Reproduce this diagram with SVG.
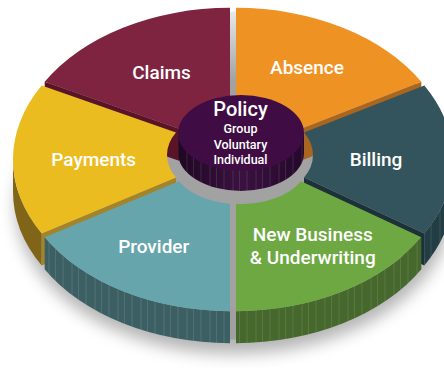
<svg xmlns="http://www.w3.org/2000/svg" width="444" height="368" viewBox="0 0 444 368">
<defs>
<filter id="blur" x="-20%" y="-20%" width="140%" height="140%"><feGaussianBlur stdDeviation="8"/></filter>
<linearGradient id="baseG" gradientUnits="userSpaceOnUse" x1="0" y1="8" x2="0" y2="80">
<stop offset="0" stop-color="#ececec"/><stop offset="1" stop-color="#a2a2a2"/>
</linearGradient>
<linearGradient id="cylSide" x1="0" y1="0" x2="1" y2="0">
<stop offset="0" stop-color="#1f0722"/><stop offset="0.5" stop-color="#3a1240"/><stop offset="1" stop-color="#24082a"/>
</linearGradient>
<pattern id="stripes" patternUnits="userSpaceOnUse" width="23" height="10">
<path d="M3,0V10M9.5,0V10M17,0V10" stroke="#fff" stroke-width="0.8" opacity="0.13"/>
</pattern>
</defs>
<style>
.lbl{font-family:Roboto,"Liberation Sans",sans-serif;font-weight:500;fill:#fff;text-anchor:middle;font-size:19px}
.sub{font-family:Roboto,"Liberation Sans",sans-serif;font-weight:500;fill:#fff;text-anchor:middle;font-size:12.5px}
.tex{fill:url(#stripes)}
</style>
<rect width="444" height="368" fill="#fff"/>
<ellipse cx="234" cy="206" rx="218" ry="148" fill="#777" opacity="0.55" filter="url(#blur)"/>
<g id="base">
<ellipse cx="233" cy="191.5" rx="214" ry="148" fill="#a0a0a0"/>
<rect x="19" y="159.5" width="428" height="32" fill="#a0a0a0"/>
<ellipse cx="233" cy="159.5" rx="214" ry="148" fill="url(#baseG)"/>
</g>
<g id="claims">
<path d="M44.67,81.86 L178.98,128.86 L178.98,160.86 L44.67,113.86 Z" fill="#5a1428"/>
<path d="M44.67,81.86 A214,148 0 0 1 230,7.86 L230,106.36 A67,45 0 0 0 178.98,128.86 Z" fill="#7e2340"/>
<text class="lbl" x="161.5" y="79">Claims</text>
</g>
<g id="absence">
<path d="M421.33,81.86 L301.02,128.86 L301.02,160.86 L421.33,113.86 Z" fill="#a86620"/>
<path d="M236,7.86 A214,148 0 0 1 421.33,81.86 L301.02,128.86 A67,45 0 0 0 236,106.36 Z" fill="#ef9224"/>
<text class="lbl" x="307" y="74">Absence</text>
</g>
<g id="payments">
<path d="M41.67,233.5 A214,148 0 0 1 13,159.5 L13,191.5 A214,148 0 0 0 41.67,265.5 Z" fill="#806418"/>
<path d="M41.67,233.5 L175.98,177.5 L175.98,209.5 L41.67,265.5 Z" fill="#a3842a"/>
<path d="M41.67,233.5 A214,148 0 0 1 41.67,85.5 L175.98,132.5 A67,45 0 0 0 175.98,177.5 Z" fill="#ebbc1f"/>
<text class="lbl" x="93.7" y="166">Payments</text>
</g>
<g id="billing">
<path d="M453,159.5 A214,148 0 0 1 424.33,233.5 L424.33,265.5 A214,148 0 0 0 453,191.5 Z" fill="#223d44"/>
<path class="tex" d="M453,159.5 A214,148 0 0 1 424.33,233.5 L424.33,265.5 A214,148 0 0 0 453,191.5 Z"/>
<path d="M424.33,233.5 L304.02,177.5 L304.02,209.5 L424.33,265.5 Z" fill="#1c3238"/>
<path d="M424.33,85.5 A214,148 0 0 1 424.33,233.5 L304.02,177.5 A67,45 0 0 0 304.02,132.5 Z" fill="#33545c"/>
<text class="lbl" x="376" y="166">Billing</text>
</g>
<g id="provider">
<path d="M230,311.14 A214,148 0 0 1 44.67,237.14 L44.67,269.14 A214,148 0 0 0 230,343.14 Z" fill="#3c5f63"/>
<path class="tex" d="M230,311.14 A214,148 0 0 1 44.67,237.14 L44.67,269.14 A214,148 0 0 0 230,343.14 Z"/>
<path d="M230,311.14 A214,148 0 0 1 44.67,237.14 L178.98,181.14 A67,45 0 0 0 230,203.64 Z" fill="#67a5ac"/>
<text class="lbl" x="153.7" y="253">Provider</text>
</g>
<g id="new-business">
<path d="M421.33,237.14 A214,148 0 0 1 236,311.14 L236,343.14 A214,148 0 0 0 421.33,269.14 Z" fill="#46682d"/>
<path class="tex" d="M421.33,237.14 A214,148 0 0 1 236,311.14 L236,343.14 A214,148 0 0 0 421.33,269.14 Z"/>
<path d="M421.33,237.14 A214,148 0 0 1 236,311.14 L236,203.64 A67,45 0 0 0 301.02,181.14 Z" fill="#6ea843"/>
<text class="lbl" x="312.8" y="241">New Business</text>
<text class="lbl" x="312.8" y="264">&amp; Underwriting</text>
</g>
<g id="policy">
<path d="M178,133 L178,153 A63,38 0 0 0 304,153 L304,133 Z" fill="url(#cylSide)"/>
<path class="tex" d="M178,133 L178,153 A63,38 0 0 0 304,153 L304,133 Z"/>
<ellipse cx="241" cy="133" rx="63" ry="38" fill="#3f0c43"/>
<text class="lbl" x="240.5" y="116" style="font-size:20px">Policy</text>
<text class="sub" x="240.5" y="133.2">Group</text>
<text class="sub" x="240.5" y="148.6">Voluntary</text>
<text class="sub" x="240.5" y="163.6">Individual</text>
</g>
</svg>
